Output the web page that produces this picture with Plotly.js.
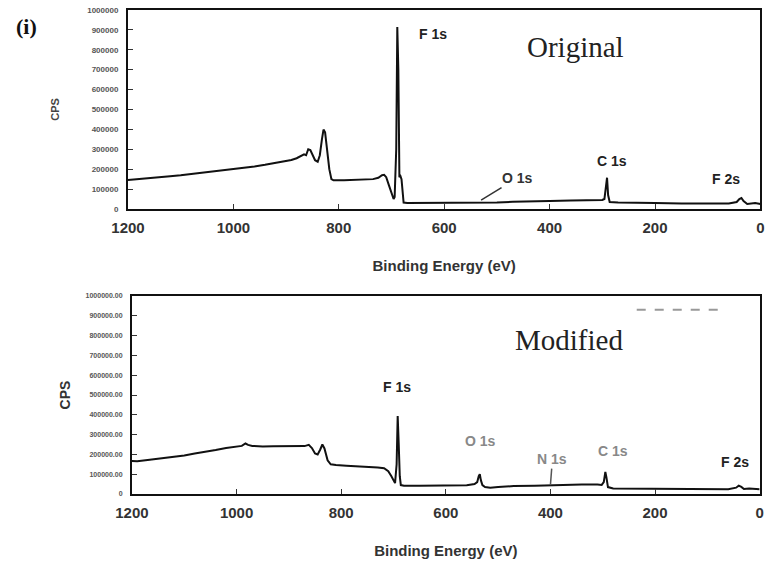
<!DOCTYPE html>
<html>
<head>
<meta charset="utf-8">
<script src="https://cdn.plot.ly/plotly-3.0.1.min.js"></script>
<style>html,body{margin:0;padding:0;background:#fff;}#chart{width:765px;height:561px;}</style>
</head>
<body>
<div id="chart"></div>
<script>
// Original spectrum: binding energy (eV) and counts per second
const beOriginal = [1200,1180,1150,1120,1100,1080,1050,1020,1000,980,960,940,920,900,890,880,872,866,862,858,854,850,845,840,836,832,829,826,822,818,814,810,790,770,750,735,725,718,714,710,705,700,696,694,691,689,687,685,683,681,679,677,670,650,600,560,530,500,470,450,420,400,360,330,300,296,293,291,289,286,270,240,200,150,100,60,45,40,36,32,25,10,0];
const cpsOriginal = [146000,150000,157000,165000,170000,176000,185000,193000,200000,207000,214000,222000,231000,240000,246000,255000,268000,275000,270000,300000,296000,270000,245000,237000,270000,350000,399000,385000,300000,200000,150000,144000,144000,146000,148000,150000,157000,170000,172000,160000,120000,80000,50000,60000,300000,914000,700000,160000,165000,150000,60000,32000,30000,30000,30000,30000,32000,33000,36000,38000,40000,40000,42000,45000,45000,50000,100000,157000,70000,35000,32000,30000,30000,28000,27000,27000,35000,50000,55000,40000,25000,30000,25000];

// Modified spectrum
const beModified = [1200,1190,1170,1150,1120,1100,1080,1060,1040,1020,1000,990,983,978,970,950,930,900,880,870,862,856,850,845,840,836,832,826,820,810,790,770,750,730,718,710,704,700,697,694,692,690,688,686,680,650,600,560,545,540,537,535,533,530,525,515,500,470,430,400,380,340,310,302,298,295,293,290,280,250,200,150,100,60,45,40,35,30,20,10,0];
const cpsModified = [167000,165000,172000,178000,188000,195000,205000,212000,222000,232000,240000,243000,255000,248000,243000,240000,241000,241000,240000,242000,248000,232000,205000,200000,225000,250000,230000,170000,150000,146000,143000,141000,138000,134000,130000,115000,90000,65000,55000,150000,394000,250000,90000,45000,42000,42000,42000,44000,50000,60000,90000,100000,70000,45000,35000,32000,35000,40000,42000,45000,46000,48000,48000,46000,60000,112000,85000,35000,28000,27000,26000,25000,24000,24000,32000,42000,36000,25000,28000,25000,24000];

const xTickVals = [1200,1000,800,600,400,200,0];
const xTickText = ['1200','1000','800','600','400','200','0'];
const yTickVals = [0,100000,200000,300000,400000,500000,600000,700000,800000,900000,1000000];
const yTickTextTop = ['0','100000','200000','300000','400000','500000','600000','700000','800000','900000','1000000'];
const yTickTextBottom = ['0','100000.00','200000.00','300000.00','400000.00','500000.00','600000.00','700000.00','800000.00','900000.00','1000000.00'];

const peakLabelsTop = ['F 1s','O 1s','C 1s','F 2s'];
const peakLabelsBottom = ['F 1s','O 1s','N 1s','C 1s','F 2s'];

const traces = [
  {x: beOriginal, y: cpsOriginal, xaxis:'x', yaxis:'y', type:'scatter', mode:'lines',
   line:{color:'#111', width:2}, hoverinfo:'skip'},
  {x: beModified, y: cpsModified, xaxis:'x2', yaxis:'y2', type:'scatter', mode:'lines',
   line:{color:'#111', width:2}, hoverinfo:'skip'}
];

const SANS = 'Liberation Sans, Arial, sans-serif';
const SERIF = 'Liberation Serif, Times New Roman, serif';
const axBase = {
  showline:true, linecolor:'#111', linewidth:2, mirror:true, showgrid:false, zeroline:false,
  ticks:'inside', ticklen:5, tickcolor:'#333'
};
const xTickFont = {family:SANS, size:15, color:'#333', weight:'bold'};
const axTitleFont = {family:SANS, size:15, color:'#333', weight:'bold'};

const layout = {
  width:765, height:561, margin:{l:0,r:0,t:0,b:0},
  paper_bgcolor:'#fff', plot_bgcolor:'#fff', showlegend:false,
  xaxis: Object.assign({}, axBase, {domain:[0.1673,0.994], anchor:'y', range:[1200,0],
    tickvals:xTickVals, ticktext:xTickText, tickfont:xTickFont, ticklabelstandoff:4,
    title:{text:'Binding Energy (eV)', font:axTitleFont, standoff:26}}),
  yaxis: Object.assign({}, axBase, {domain:[0.6275,0.9822], anchor:'x', range:[0,1000000],
    tickvals:yTickVals, ticktext:yTickTextTop, tickfont:{family:SANS, size:8, color:'#555', weight:'bold'},
    ticklabelstandoff:6,
    title:{text:'CPS', font:{family:SANS, size:11, color:'#444', weight:'bold'}, standoff:25}}),
  xaxis2: Object.assign({}, axBase, {domain:[0.1725,0.993], anchor:'y2', range:[1200,0],
    tickvals:xTickVals, ticktext:xTickText, tickfont:xTickFont, ticklabelstandoff:4,
    title:{text:'Binding Energy (eV)', font:axTitleFont, standoff:25}}),
  yaxis2: Object.assign({}, axBase, {domain:[0.1194,0.4724], anchor:'x2', range:[0,1000000],
    tickvals:yTickVals, ticktext:yTickTextBottom, tickfont:{family:SANS, size:7, color:'#555', weight:'bold'},
    ticklabelstandoff:6,
    title:{text:'CPS', font:{family:SANS, size:14, color:'#333', weight:'bold'}, standoff:12}}),
  annotations: [
    {xref:'paper', yref:'paper', x:0.018, y:0.952, text:'(i)', showarrow:false, xanchor:'left', yanchor:'middle',
     font:{family:SERIF, size:22, color:'#111', weight:'bold'}},
    {xref:'x', yref:'y', x:350, y:815000, text:'Original', showarrow:false,
     font:{family:SERIF, size:29, color:'#222'}},
    {xref:'x2', yref:'y2', x:365, y:780000, text:'Modified', showarrow:false,
     font:{family:SERIF, size:29, color:'#222'}},
    // top peak labels
    {xref:'x', yref:'y', x:622, y:880000, text:peakLabelsTop[0], showarrow:false,
     font:{family:SANS, size:14, color:'#222', weight:'bold'}},
    {xref:'x', yref:'y', x:530, y:45000, text:peakLabelsTop[1], showarrow:true, arrowhead:0, arrowwidth:1.5, arrowcolor:'#333', ax:36, ay:-22,
     font:{family:SANS, size:14, color:'#333', weight:'bold'}},
    {xref:'x', yref:'y', x:282, y:240000, text:peakLabelsTop[2], showarrow:false,
     font:{family:SANS, size:14, color:'#222', weight:'bold'}},
    {xref:'x', yref:'y', x:65, y:150000, text:peakLabelsTop[3], showarrow:false,
     font:{family:SANS, size:14, color:'#222', weight:'bold'}},
    // bottom peak labels
    {xref:'x2', yref:'y2', x:693, y:540000, text:peakLabelsBottom[0], showarrow:false,
     font:{family:SANS, size:14, color:'#222', weight:'bold'}},
    {xref:'x2', yref:'y2', x:534, y:270000, text:peakLabelsBottom[1], showarrow:false,
     font:{family:SANS, size:14, color:'#888', weight:'bold'}},
    {xref:'x2', yref:'y2', x:400, y:45000, text:peakLabelsBottom[2], showarrow:true, arrowhead:0, arrowwidth:1.5, arrowcolor:'#555', ax:2, ay:-26,
     font:{family:SANS, size:14, color:'#888', weight:'bold'}},
    {xref:'x2', yref:'y2', x:281, y:215000, text:peakLabelsBottom[3], showarrow:false,
     font:{family:SANS, size:14, color:'#888', weight:'bold'}},
    {xref:'x2', yref:'y2', x:48, y:160000, text:peakLabelsBottom[4], showarrow:false,
     font:{family:SANS, size:14, color:'#222', weight:'bold'}}
  ],
  shapes: [
    {type:'line', xref:'x2', yref:'y2', x0:235, x1:80, y0:930000, y1:930000,
     line:{color:'#999', width:2, dash:'dash'}}
  ]
};

Plotly.newPlot('chart', traces, layout, {displayModeBar:false, staticPlot:true});
</script>
</body>
</html>
